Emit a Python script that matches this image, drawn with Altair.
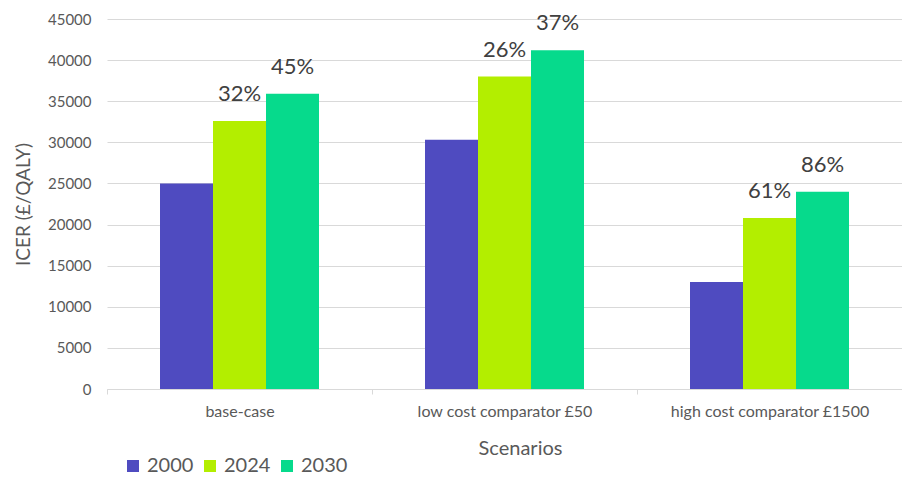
import altair as alt
import pandas as pd

scenarios = ["base-case", "low cost comparator £50", "high cost comparator £1500"]
years = ["2000", "2024", "2030"]
v2000 = [25000, 30300, 13000]
v2024 = [32600, 38000, 20800]
v2030 = [35900, 41200, 24000]
pct2000 = ["", "", ""]
pct2024 = ["32%", "26%", "61%"]
pct2030 = ["45%", "37%", "86%"]
colors = ["#4F4BC0", "#B3EE00", "#06DA8C"]
y_ticks = [0, 5000, 10000, 15000, 20000, 25000, 30000, 35000, 40000, 45000]

rows = []
for i, s in enumerate(scenarios):
    for yr, vals, labs in zip(years, [v2000, v2024, v2030], [pct2000, pct2024, pct2030]):
        rows.append(dict(scenario=s, year=yr, value=vals[i], label=labs[i]))
df = pd.DataFrame(rows)

FONT = "Lato"
GREY = "#595959"

x = alt.X(
    "scenario:N",
    sort=scenarios,
    scale=alt.Scale(paddingInner=0, paddingOuter=0),
    axis=alt.Axis(
        title="Scenarios",
        labelAngle=0,
        labelLimit=0,
        tickBand="extent",
        tickSize=5,
        tickColor="#D9D9D9",
        domainColor="#D9D9D9",
        labelFontSize=16,
        labelColor=GREY,
        labelPadding=9,
        titleFontSize=20,
        titleColor=GREY,
        titleFontWeight="normal",
        titlePadding=19,
        titleX=413,
        grid=False,
    ),
)
xo = alt.XOffset("year:N", sort=years, scale=alt.Scale(paddingOuter=1, paddingInner=0))
y = alt.Y(
    "value:Q",
    scale=alt.Scale(domain=[0, 45000], nice=False),
    axis=alt.Axis(
        title="ICER (£/QALY)",
        values=y_ticks,
        format="d",
        domain=False,
        ticks=False,
        labelFontSize=15,
        labelColor=GREY,
        labelPadding=16,
        gridColor="#D9D9D9",
        gridWidth=1,
        titleFontSize=19,
        titleColor=GREY,
        titleFontWeight="normal",
        titlePadding=14,
    ),
)

bars = alt.Chart(df).mark_bar().encode(
    x=x,
    xOffset=xo,
    y=y,
    color=alt.Color(
        "year:N",
        sort=years,
        scale=alt.Scale(domain=years, range=colors),
        legend=alt.Legend(
            title=None,
            orient="none",
            legendX=16,
            legendY=437,
            direction="horizontal",
            symbolType="square",
            symbolSize=144,
            symbolStrokeWidth=0,
            labelFontSize=20,
            labelColor=GREY,
            labelOffset=4,
            columnPadding=6,
        ),
    ),
)

text = alt.Chart(df).mark_text(
    dy=-20, baseline="alphabetic", fontSize=22, color="#404040", font=FONT
).encode(x=x, xOffset=xo, y=y, text="label:N")

chart = (
    alt.layer(bars, text)
    .properties(
        width=795,
        height=370,
        autosize=alt.AutoSizeParams(type="none"),
        padding={"left": 107, "top": 19, "right": 0, "bottom": 92},
    )
    .configure(font=FONT)
    .configure_view(stroke=None)
)

chart.save("out.html", embed_options={"renderer": "svg", "actions": False})
